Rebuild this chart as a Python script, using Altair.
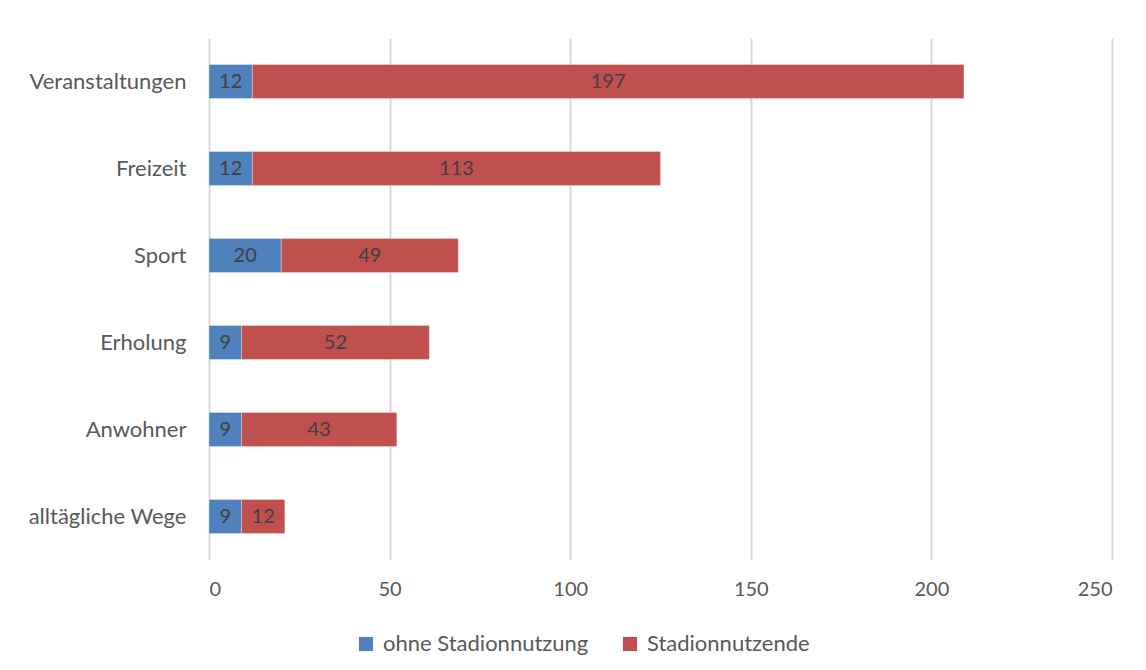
import altair as alt
import pandas as pd

categories = ["Veranstaltungen", "Freizeit", "Sport", "Erholung", "Anwohner", "alltägliche Wege"]
ohne = [12, 12, 20, 9, 9, 9]
nutzende = [197, 113, 49, 52, 43, 12]
series = ["ohne Stadionnutzung", "Stadionnutzende"]
colors = ["#4f81bd", "#c0504d"]

rows = []
for i, c in enumerate(categories):
    rows.append({"cat": c, "series": series[0], "value": ohne[i], "ord": 0})
    rows.append({"cat": c, "series": series[1], "value": nutzende[i], "ord": 1})
df = pd.DataFrame(rows)

FONT = "Lato"
TXT = "#595959"

base = alt.Chart(df).transform_stack(
    stack="value", groupby=["cat"], as_=["x0", "x1"], sort=[alt.SortField("ord")]
).transform_calculate(mid="(datum.x0 + datum.x1) / 2")

y = alt.Y("cat:N", sort=categories, title=None,
          scale=alt.Scale(paddingInner=0.61, paddingOuter=0.305),
          axis=alt.Axis(domain=False, ticks=False, labelPadding=23, labelFontSize=22,
                        labelColor=TXT, labelFont=FONT, grid=False, labelLimit=300))

bars = base.mark_bar(stroke="white", strokeWidth=0.5, strokeOpacity=0.6).encode(
    x=alt.X("x0:Q", title=None,
            scale=alt.Scale(domain=[0, 250], nice=False),
            axis=alt.Axis(values=[0, 50, 100, 150, 200, 250], domain=False, ticks=False,
                          labelPadding=19, labelFontSize=20, labelColor=TXT, labelFont=FONT,
                          gridColor="#d9d9d9", gridWidth=2)),
    x2="x1:Q",
    y=y,
    color=alt.Color("series:N", sort=series,
                    scale=alt.Scale(domain=series, range=colors),
                    legend=alt.Legend(title=None, orient="none", direction="horizontal",
                                      legendX=146, legendY=595, symbolType="square",
                                      symbolSize=200, symbolStrokeWidth=0, labelFontSize=22,
                                      labelColor=TXT, labelFont=FONT, columnPadding=30,
                                      labelOffset=6, labelLimit=400)),
)

labels = base.mark_text(fontSize=20, font=FONT, color="#404040").encode(
    x="mid:Q",
    y=alt.Y("cat:N", sort=categories),
    text="value:Q",
)

chart = (bars + labels).properties(
    width=903, height=522,
    autosize=alt.AutoSizeParams(type="none"),
    padding={"left": 201, "top": 30, "right": 26, "bottom": 102},
).configure_view(stroke=None)

chart.save("out.html", embed_options={"renderer": "svg", "actions": False})
